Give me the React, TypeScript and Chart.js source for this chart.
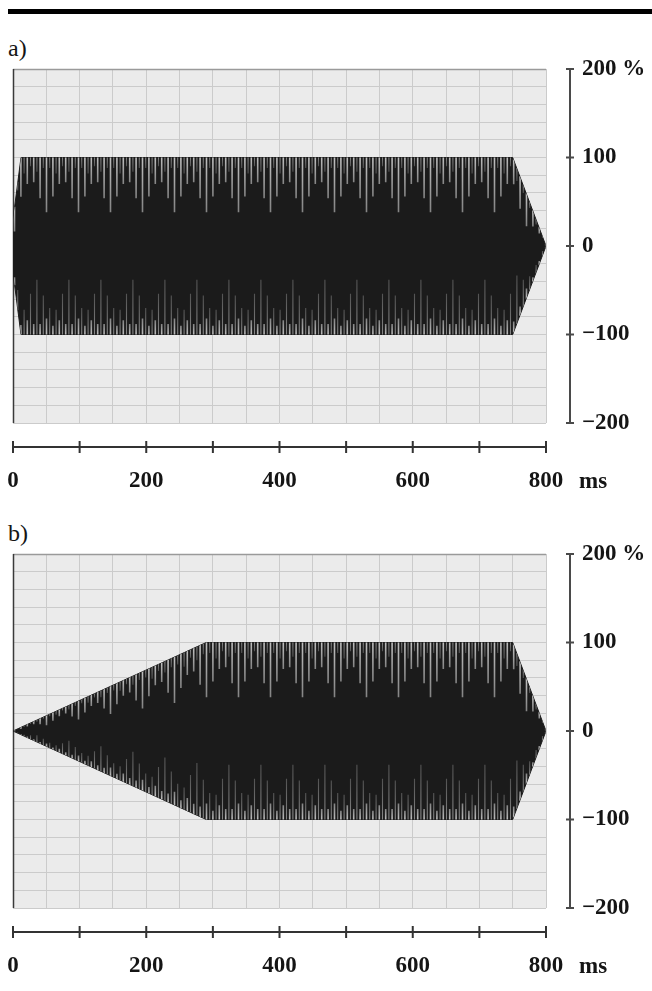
import React, { useEffect, useRef } from 'react';
import { Chart, registerables } from 'chart.js';

Chart.register(...registerables);

// ---- data ----
// Panel a: envelope of the tone burst (% of nominal amplitude) versus time (ms)
const panelATimes = [0, 12, 750, 800];
const panelAUpper = [30, 100, 100, 0];
const panelALower = [-30, -100, -100, 0];

// Panel b: slow linear rise, plateau, short fall
const panelBTimes = [0, 290, 750, 800];
const panelBUpper = [0, 100, 100, 0];
const panelBLower = [0, -100, -100, 0];

// axis ticks
const xTickValues = [0, 200, 400, 600, 800];
const xTickLabels = ['0', '200', '400', '600', '800'];
const xMinorTicks = [0, 100, 200, 300, 400, 500, 600, 700, 800];
const yTickValues = [200, 100, 0, -100, -200];
const yTickLabels = ['200 %', '100', '0', '\u2212100', '\u2212200'];
const xUnit = 'ms';

// ---- styles ----
const WAVE = '#1b1b1b';
const PANEL_BG = '#ebebeb';
const GRID = '#cbcbcb';
const AXIS = '#4a4a4a';
const TEXT = '#151515';
const FONT_FAMILY = "'Liberation Serif', 'Times New Roman', serif";
const LABEL_SIZE = 23;
const LABEL_FONT = { family: FONT_FAMILY, size: LABEL_SIZE, weight: 'bold' as const };
// texture of the dense carrier (light streaks running in from the envelope edge)
const STREAK_STEP = 3.2; // px between streaks
const STREAK_DEPTH = [0.62, 0.12, 0.44, 0.18, 0.3, 0.1, 0.28, 0.16, 0.46, 0.12]; // fraction of envelope height
const STREAK_LIGHT = [true, false, true, false, true, false, true, false, true, false];

function envelopeAt(points: any[], px: number): number | null {
  for (let i = 0; i < points.length - 1; i++) {
    const p = points[i];
    const q = points[i + 1];
    if (px >= p.x && px <= q.x) {
      const t = q.x === p.x ? 0 : (px - p.x) / (q.x - p.x);
      return p.y + t * (q.y - p.y);
    }
  }
  return null;
}

const framePlugin = {
  id: 'frame',
  beforeDraw(chart: any) {
    const { ctx, chartArea: a } = chart;
    ctx.save();
    ctx.fillStyle = PANEL_BG;
    ctx.fillRect(a.left, a.top, a.right - a.left, a.bottom - a.top);
    ctx.restore();
  },
  beforeDatasetsDraw(chart: any) {
    const { ctx, chartArea: a } = chart;
    ctx.save();
    ctx.strokeStyle = '#9a9a9a';
    ctx.lineWidth = 1.5;
    ctx.beginPath();
    ctx.moveTo(a.left, a.top + 0.5);
    ctx.lineTo(a.right, a.top + 0.5);
    ctx.stroke();
    ctx.strokeStyle = '#3a3a3a';
    ctx.lineWidth = 1.5;
    ctx.beginPath();
    ctx.moveTo(a.left + 0.5, a.top);
    ctx.lineTo(a.left + 0.5, a.bottom);
    ctx.stroke();
    ctx.restore();
  },
  afterDatasetsDraw(chart: any) {
    const { ctx } = chart;
    const ys = chart.scales.y;
    const up = chart.getDatasetMeta(0).data.map((e: any) => ({ x: e.x, y: e.y }));
    const lo = chart.getDatasetMeta(1).data.map((e: any) => ({ x: e.x, y: e.y }));
    const yc = ys.getPixelForValue(0);
    // clip to the filled envelope
    ctx.save();
    ctx.beginPath();
    up.forEach((p: any, i: number) => (i ? ctx.lineTo(p.x, p.y) : ctx.moveTo(p.x, p.y)));
    for (let i = lo.length - 1; i >= 0; i--) ctx.lineTo(lo[i].x, lo[i].y);
    ctx.closePath();
    ctx.clip();
    const x0 = up[0].x;
    const x1 = up[up.length - 1].x;
    let k = 0;
    for (let px = x0 + 1.5; px < x1; px += STREAK_STEP, k++) {
      const yu = envelopeAt(up, px);
      const yl = envelopeAt(lo, px);
      if (yu === null || yl === null) continue;
      const d = STREAK_DEPTH[k % STREAK_DEPTH.length];
      const light = STREAK_LIGHT[k % STREAK_LIGHT.length];
      const c0 = light ? 'rgba(200,200,200,0.95)' : 'rgba(165,165,165,0.8)';
      const c1 = light ? 'rgba(150,150,150,0.85)' : 'rgba(120,120,120,0.6)';
      const d2 = STREAK_DEPTH[(k + 3) % STREAK_DEPTH.length];
      ctx.lineWidth = light ? 1.6 : 1.1;
      // upper streak
      let g = ctx.createLinearGradient(0, yu, 0, yu + d * (yc - yu));
      g.addColorStop(0, c0);
      g.addColorStop(1, c1);
      ctx.strokeStyle = g;
      ctx.beginPath();
      ctx.moveTo(px, yu - 1);
      ctx.lineTo(px, yu + d * (yc - yu));
      ctx.stroke();
      // lower streak
      g = ctx.createLinearGradient(0, yl, 0, yl - d2 * (yl - yc));
      g.addColorStop(0, c0);
      g.addColorStop(1, c1);
      ctx.strokeStyle = g;
      ctx.beginPath();
      ctx.moveTo(px, yl + 1);
      ctx.lineTo(px, yl - d2 * (yl - yc));
      ctx.stroke();
    }
    ctx.restore();
  },
  afterDraw(chart: any) {
    const { ctx, chartArea: a } = chart;
    const xs = chart.scales.x;
    const ys = chart.scales.y;
    ctx.save();
    // right-hand amplitude axis
    const ax = a.right + 24;
    ctx.strokeStyle = AXIS;
    ctx.lineWidth = 2;
    ctx.beginPath();
    ctx.moveTo(ax, ys.getPixelForValue(yTickValues[0]));
    ctx.lineTo(ax, ys.getPixelForValue(yTickValues[yTickValues.length - 1]));
    for (const v of yTickValues) {
      const py = ys.getPixelForValue(v);
      ctx.moveTo(ax - 4, py);
      ctx.lineTo(ax + 4, py);
    }
    ctx.stroke();
    // bottom time axis
    const ay = a.bottom + 24;
    ctx.strokeStyle = '#333333';
    ctx.beginPath();
    ctx.moveTo(xs.getPixelForValue(xMinorTicks[0]), ay);
    ctx.lineTo(xs.getPixelForValue(xMinorTicks[xMinorTicks.length - 1]), ay);
    for (const v of xMinorTicks) {
      const px = xs.getPixelForValue(v);
      ctx.moveTo(px, ay - 6);
      ctx.lineTo(px, ay + 6);
    }
    ctx.stroke();
    // unit label
    ctx.fillStyle = TEXT;
    ctx.font = `bold ${LABEL_SIZE}px ${FONT_FAMILY}`;
    ctx.textAlign = 'left';
    ctx.textBaseline = 'alphabetic';
    ctx.fillText(xUnit, a.right + 33, a.bottom + 65);
    ctx.restore();
  },
};

function WavePanel({ times, upper, lower, top }: { times: number[]; upper: number[]; lower: number[]; top: number }) {
  const ref = useRef<HTMLCanvasElement>(null);
  useEffect(() => {
    const chart = new Chart(ref.current as HTMLCanvasElement, {
      type: 'line',
      data: {
        datasets: [
          {
            data: times.map((t, i) => ({ x: t, y: upper[i] })),
            borderColor: WAVE,
            backgroundColor: WAVE,
            borderWidth: 1,
            pointRadius: 0,
            fill: '+1',
            tension: 0,
          },
          {
            data: times.map((t, i) => ({ x: t, y: lower[i] })),
            borderColor: WAVE,
            backgroundColor: WAVE,
            borderWidth: 1,
            pointRadius: 0,
            fill: false,
            tension: 0,
          },
        ],
      },
      options: {
        animation: false,
        responsive: false,
        devicePixelRatio: 1,
        layout: { padding: { left: 13, top: 20, right: 0, bottom: 0 } },
        plugins: { legend: { display: false }, tooltip: { enabled: false } },
        scales: {
          x: {
            type: 'linear',
            position: 'bottom',
            min: 0,
            max: 800,
            ticks: {
              stepSize: 50,
              autoSkip: false,
              maxRotation: 0,
              padding: 0,
              color: TEXT,
              font: LABEL_FONT,
              callback: (v: any) => {
                const i = xTickValues.indexOf(Number(v));
                return i >= 0 ? xTickLabels[i] : '';
              },
            },
            grid: { color: GRID, lineWidth: 1, drawTicks: true, tickLength: 44, tickColor: 'rgba(0,0,0,0)' },
            border: { display: false },
            afterFit: (s: any) => {
              s.height = 86;
            },
          },
          y: {
            type: 'linear',
            position: 'right',
            min: -200,
            max: 200,
            ticks: {
              stepSize: 20,
              autoSkip: false,
              padding: 0,
              color: TEXT,
              font: LABEL_FONT,
              callback: (v: any) => {
                const i = yTickValues.indexOf(Number(v));
                return i >= 0 ? yTickLabels[i] : '';
              },
            },
            grid: { color: GRID, lineWidth: 1, drawTicks: true, tickLength: 36, tickColor: 'rgba(0,0,0,0)' },
            border: { display: false },
            afterFit: (s: any) => {
              s.width = 106;
            },
          },
        },
      },
      plugins: [framePlugin],
    } as any);
    return () => chart.destroy();
  }, [times, upper, lower]);
  return (
    <canvas
      ref={ref}
      width={652}
      height={460}
      style={{ position: 'absolute', left: 0, top, width: 652, height: 460 }}
    />
  );
}

const labelStyle: React.CSSProperties = {
  position: 'absolute',
  left: 8,
  fontFamily: FONT_FAMILY,
  fontSize: 24,
  lineHeight: '24px',
  color: TEXT,
};

export default function App() {
  return (
    <div style={{ position: 'absolute', left: 0, top: 0, width: 652, height: 991, background: '#ffffff', overflow: 'hidden' }}>
      <div style={{ position: 'absolute', left: 8, top: 9, width: 644, height: 5, background: '#000' }} />
      <div style={{ ...labelStyle, top: 36 }}>a)</div>
      <WavePanel times={panelATimes} upper={panelAUpper} lower={panelALower} top={49} />
      <div style={{ ...labelStyle, top: 521 }}>b)</div>
      <WavePanel times={panelBTimes} upper={panelBUpper} lower={panelBLower} top={534} />
    </div>
  );
}
